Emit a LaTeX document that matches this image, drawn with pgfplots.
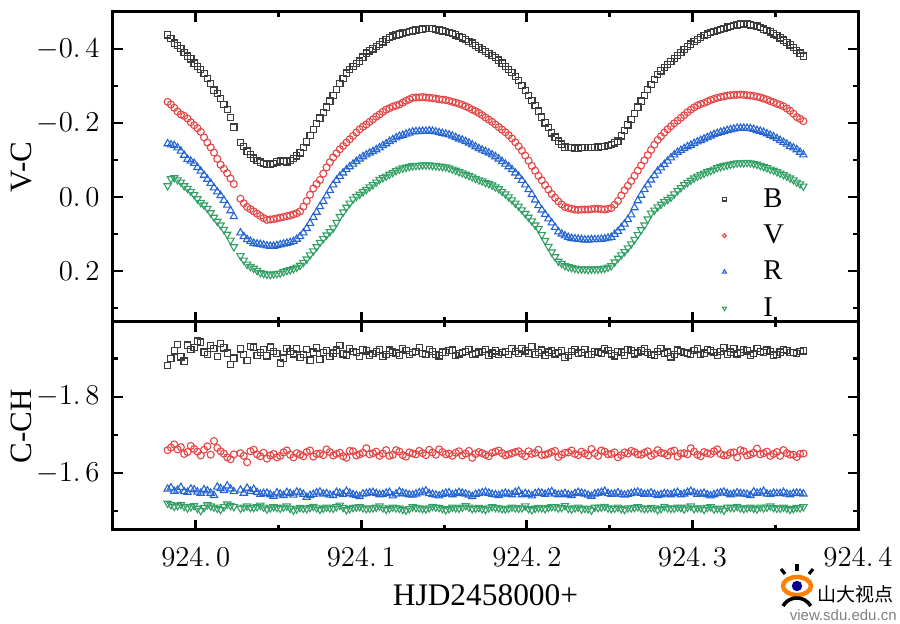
\documentclass[border=0pt]{standalone}
\usepackage{fontspec}
\setmainfont{Liberation Serif}
\newfontfamily\cjk{Noto Sans CJK SC}
\newfontfamily\lsans{Liberation Sans}
\usepackage{pgfplots}
\pgfplotsset{compat=1.18}
\usepackage{pgfplotstable}

\definecolor{cB}{RGB}{60,60,60}
\definecolor{cV}{RGB}{228,70,70}
\definecolor{cR}{RGB}{35,100,210}
\definecolor{cI}{RGB}{50,160,100}

\pgfplotstableread{
x B V R I
923.983 -0.438 -0.257 -0.144 -0.030
923.987 -0.416 -0.241 -0.139 -0.052
923.991 -0.401 -0.223 -0.124 -0.040
923.995 -0.381 -0.212 -0.102 -0.023
923.999 -0.362 -0.194 -0.091 -0.006
924.003 -0.344 -0.176 -0.070 0.015
924.007 -0.321 -0.147 -0.048 0.031
924.011 -0.289 -0.120 -0.025 0.055
924.015 -0.266 -0.087 -0.004 0.076
924.019 -0.236 -0.064 0.022 0.101
924.023 -0.189 -0.035 0.053 0.135
924.027 -0.147 0.005 0.097 0.159
924.031 -0.124 0.027 0.115 0.182
924.035 -0.105 0.039 0.125 0.193
924.039 -0.094 0.051 0.128 0.205
924.043 -0.088 0.062 0.132 0.209
924.047 -0.091 0.060 0.133 0.208
924.051 -0.099 0.056 0.129 0.206
924.055 -0.095 0.052 0.125 0.199
924.059 -0.104 0.047 0.120 0.194
924.063 -0.119 0.039 0.107 0.185
924.067 -0.149 0.011 0.085 0.168
924.071 -0.182 -0.023 0.055 0.146
924.075 -0.213 -0.046 0.026 0.123
924.079 -0.243 -0.080 -0.003 0.103
924.083 -0.275 -0.107 -0.033 0.084
924.087 -0.307 -0.129 -0.056 0.053
924.091 -0.335 -0.147 -0.074 0.028
924.095 -0.352 -0.165 -0.089 0.006
924.099 -0.367 -0.183 -0.103 -0.007
924.103 -0.389 -0.196 -0.114 -0.020
924.107 -0.400 -0.210 -0.123 -0.033
924.111 -0.412 -0.223 -0.133 -0.047
924.115 -0.426 -0.236 -0.144 -0.056
924.119 -0.435 -0.244 -0.155 -0.066
924.123 -0.440 -0.250 -0.164 -0.075
924.127 -0.445 -0.260 -0.170 -0.080
924.131 -0.449 -0.268 -0.176 -0.084
924.135 -0.452 -0.269 -0.177 -0.085
924.139 -0.456 -0.269 -0.178 -0.086
924.143 -0.455 -0.267 -0.178 -0.085
924.147 -0.451 -0.264 -0.174 -0.083
924.151 -0.447 -0.262 -0.170 -0.081
924.155 -0.442 -0.257 -0.165 -0.075
924.159 -0.434 -0.252 -0.157 -0.068
924.163 -0.425 -0.245 -0.150 -0.061
924.167 -0.416 -0.236 -0.141 -0.054
924.171 -0.404 -0.227 -0.131 -0.046
924.175 -0.393 -0.215 -0.123 -0.039
924.179 -0.383 -0.203 -0.114 -0.032
924.183 -0.370 -0.189 -0.103 -0.022
924.187 -0.353 -0.175 -0.089 -0.008
924.191 -0.336 -0.158 -0.074 0.008
924.195 -0.315 -0.137 -0.056 0.025
924.199 -0.288 -0.112 -0.033 0.045
924.203 -0.261 -0.084 -0.007 0.065
924.207 -0.232 -0.057 0.023 0.086
924.211 -0.200 -0.032 0.047 0.118
924.215 -0.173 -0.008 0.070 0.149
924.219 -0.151 0.012 0.094 0.174
924.223 -0.135 0.027 0.105 0.186
924.227 -0.133 0.032 0.112 0.191
924.231 -0.132 0.035 0.114 0.195
924.235 -0.133 0.034 0.116 0.195
924.239 -0.134 0.033 0.115 0.195
924.243 -0.135 0.032 0.115 0.195
924.247 -0.137 0.034 0.113 0.193
924.251 -0.141 0.030 0.109 0.186
924.255 -0.151 0.011 0.093 0.166
924.259 -0.180 -0.018 0.073 0.148
924.263 -0.209 -0.043 0.048 0.127
924.267 -0.243 -0.071 0.010 0.102
924.271 -0.275 -0.099 -0.020 0.076
924.275 -0.304 -0.127 -0.046 0.044
924.279 -0.331 -0.154 -0.070 0.027
924.283 -0.350 -0.174 -0.088 0.013
924.287 -0.366 -0.191 -0.106 0.001
924.291 -0.383 -0.206 -0.121 -0.017
924.295 -0.399 -0.221 -0.131 -0.033
924.299 -0.413 -0.236 -0.140 -0.045
924.303 -0.426 -0.247 -0.149 -0.056
924.307 -0.436 -0.254 -0.157 -0.064
924.311 -0.444 -0.262 -0.165 -0.071
924.315 -0.450 -0.268 -0.172 -0.079
924.319 -0.456 -0.272 -0.177 -0.084
924.323 -0.461 -0.275 -0.182 -0.088
924.327 -0.465 -0.276 -0.186 -0.092
924.331 -0.468 -0.276 -0.186 -0.092
924.335 -0.465 -0.274 -0.185 -0.092
924.339 -0.462 -0.271 -0.180 -0.088
924.343 -0.454 -0.266 -0.175 -0.082
924.347 -0.446 -0.259 -0.167 -0.075
924.351 -0.436 -0.252 -0.158 -0.068
924.355 -0.424 -0.245 -0.148 -0.060
924.359 -0.411 -0.233 -0.137 -0.051
924.363 -0.396 -0.216 -0.128 -0.040
924.367 -0.381 -0.205 -0.114 -0.029
}\topdata

\pgfplotstableread{
x B V R I
923.985 -0.428 -0.250 -0.141 -0.049
923.989 -0.410 -0.231 -0.133 -0.046
923.993 -0.390 -0.219 -0.113 -0.030
923.997 -0.373 -0.202 -0.097 -0.015
924.001 -0.352 -0.186 -0.080 0.005
924.005 -0.333 -0.161 -0.059 0.022
924.009 -0.306 -0.134 -0.037 0.043
924.013 -0.279 -0.103 -0.014 0.066
924.017 -0.250 -0.076 0.009 0.088
924.021 -0.214 -0.050 0.037 0.117
924.029 -0.136 0.017 0.107 0.171
924.033 -0.114 0.033 0.120 0.188
924.037 -0.099 0.045 0.127 0.199
924.041 -0.091 0.057 0.130 0.207
924.045 -0.089 0.061 0.133 0.210
924.049 -0.095 0.058 0.131 0.207
924.053 -0.097 0.054 0.127 0.202
924.057 -0.099 0.050 0.123 0.197
924.061 -0.111 0.044 0.114 0.190
924.065 -0.133 0.026 0.097 0.177
924.069 -0.166 -0.006 0.071 0.157
924.073 -0.198 -0.035 0.041 0.135
924.077 -0.228 -0.063 0.012 0.113
924.081 -0.259 -0.094 -0.018 0.094
924.085 -0.291 -0.118 -0.045 0.069
924.089 -0.321 -0.138 -0.065 0.041
924.093 -0.344 -0.156 -0.082 0.017
924.097 -0.360 -0.174 -0.096 -0.001
924.101 -0.378 -0.190 -0.109 -0.014
924.105 -0.395 -0.203 -0.119 -0.027
924.109 -0.406 -0.217 -0.128 -0.040
924.113 -0.419 -0.230 -0.139 -0.052
924.117 -0.431 -0.240 -0.150 -0.061
924.121 -0.438 -0.247 -0.160 -0.071
924.125 -0.443 -0.255 -0.167 -0.078
924.129 -0.447 -0.264 -0.173 -0.082
924.133 -0.451 -0.269 -0.177 -0.085
924.137 -0.454 -0.270 -0.178 -0.086
924.141 -0.456 -0.268 -0.179 -0.086
924.145 -0.453 -0.266 -0.176 -0.084
924.149 -0.449 -0.263 -0.172 -0.082
924.153 -0.445 -0.260 -0.168 -0.078
924.157 -0.438 -0.255 -0.161 -0.072
924.161 -0.430 -0.249 -0.154 -0.065
924.165 -0.421 -0.241 -0.146 -0.058
924.169 -0.410 -0.232 -0.136 -0.050
924.173 -0.399 -0.221 -0.127 -0.043
924.177 -0.388 -0.209 -0.119 -0.036
924.181 -0.377 -0.196 -0.109 -0.027
924.185 -0.362 -0.182 -0.096 -0.015
924.189 -0.345 -0.167 -0.082 0.000
924.193 -0.326 -0.148 -0.065 0.017
924.197 -0.302 -0.125 -0.045 0.035
924.201 -0.275 -0.098 -0.020 0.055
924.205 -0.247 -0.071 0.008 0.076
924.209 -0.216 -0.045 0.035 0.102
924.213 -0.187 -0.020 0.059 0.134
924.217 -0.162 0.002 0.082 0.162
924.221 -0.143 0.020 0.100 0.180
924.225 -0.134 0.030 0.109 0.189
924.229 -0.132 0.034 0.113 0.193
924.233 -0.133 0.034 0.115 0.195
924.237 -0.134 0.034 0.116 0.196
924.241 -0.134 0.032 0.115 0.195
924.245 -0.136 0.033 0.114 0.194
924.249 -0.139 0.032 0.111 0.190
924.253 -0.146 0.021 0.101 0.176
924.257 -0.165 -0.004 0.083 0.157
924.261 -0.195 -0.030 0.061 0.138
924.265 -0.226 -0.057 0.029 0.115
924.269 -0.259 -0.085 -0.005 0.089
924.273 -0.290 -0.113 -0.033 0.060
924.277 -0.318 -0.141 -0.058 0.036
924.281 -0.341 -0.164 -0.079 0.020
924.285 -0.358 -0.183 -0.097 0.007
924.289 -0.375 -0.199 -0.114 -0.008
924.293 -0.391 -0.214 -0.126 -0.025
924.297 -0.406 -0.229 -0.136 -0.039
924.301 -0.420 -0.242 -0.145 -0.051
924.305 -0.431 -0.251 -0.153 -0.060
924.309 -0.440 -0.258 -0.161 -0.068
924.313 -0.447 -0.265 -0.169 -0.075
924.317 -0.453 -0.270 -0.175 -0.082
924.321 -0.459 -0.274 -0.180 -0.086
924.325 -0.463 -0.276 -0.184 -0.090
924.329 -0.467 -0.277 -0.186 -0.092
924.333 -0.467 -0.275 -0.186 -0.093
924.337 -0.464 -0.273 -0.183 -0.090
924.341 -0.458 -0.269 -0.178 -0.085
924.345 -0.450 -0.263 -0.171 -0.079
924.349 -0.441 -0.256 -0.163 -0.072
924.353 -0.430 -0.249 -0.153 -0.064
924.357 -0.418 -0.239 -0.143 -0.056
924.361 -0.404 -0.225 -0.133 -0.046
924.365 -0.389 -0.211 -0.121 -0.035
}\topmid

\pgfplotstableread{
x B V R I
923.983 -1.882 -1.660 -1.558 -1.520
923.987 -1.921 -1.675 -1.552 -1.512
923.991 -1.905 -1.668 -1.562 -1.517
923.995 -1.936 -1.655 -1.549 -1.508
923.999 -1.930 -1.663 -1.556 -1.514
924.003 -1.944 -1.646 -1.547 -1.501
924.007 -1.912 -1.670 -1.553 -1.516
924.011 -1.928 -1.684 -1.541 -1.510
924.015 -1.940 -1.657 -1.559 -1.504
924.019 -1.915 -1.641 -1.566 -1.518
924.023 -1.902 -1.649 -1.551 -1.511
924.027 -1.926 -1.652 -1.555 -1.507
924.031 -1.896 -1.628 -1.560 -1.513
924.035 -1.931 -1.661 -1.557 -1.509
924.039 -1.917 -1.644 -1.544 -1.515
924.043 -1.908 -1.638 -1.547 -1.505
924.047 -1.920 -1.650 -1.539 -1.511
924.051 -1.889 -1.645 -1.545 -1.507
924.055 -1.927 -1.659 -1.549 -1.513
924.059 -1.913 -1.641 -1.542 -1.502
924.063 -1.903 -1.648 -1.548 -1.509
924.067 -1.924 -1.655 -1.536 -1.506
924.071 -1.918 -1.643 -1.544 -1.512
924.075 -1.899 -1.651 -1.550 -1.504
924.079 -1.922 -1.662 -1.546 -1.510
924.083 -1.915 -1.646 -1.541 -1.507
924.087 -1.935 -1.653 -1.547 -1.515
924.091 -1.910 -1.640 -1.552 -1.503
924.095 -1.919 -1.657 -1.543 -1.509
924.099 -1.907 -1.649 -1.538 -1.511
924.103 -1.921 -1.665 -1.546 -1.506
924.107 -1.914 -1.652 -1.549 -1.508
924.111 -1.925 -1.645 -1.543 -1.513
924.115 -1.911 -1.660 -1.547 -1.504
924.119 -1.918 -1.648 -1.540 -1.510
924.123 -1.909 -1.656 -1.551 -1.507
924.127 -1.922 -1.643 -1.545 -1.502
924.131 -1.916 -1.651 -1.542 -1.511
924.135 -1.930 -1.658 -1.548 -1.508
924.139 -1.912 -1.647 -1.553 -1.505
924.143 -1.919 -1.654 -1.544 -1.512
924.147 -1.908 -1.662 -1.540 -1.509
924.151 -1.917 -1.649 -1.547 -1.503
924.155 -1.923 -1.645 -1.543 -1.510
924.159 -1.913 -1.657 -1.549 -1.507
924.163 -1.920 -1.651 -1.545 -1.514
924.167 -1.911 -1.640 -1.538 -1.506
924.171 -1.918 -1.655 -1.546 -1.509
924.175 -1.924 -1.648 -1.550 -1.504
924.179 -1.915 -1.653 -1.544 -1.511
924.183 -1.912 -1.659 -1.541 -1.508
924.187 -1.919 -1.646 -1.547 -1.505
924.191 -1.927 -1.652 -1.543 -1.510
924.195 -1.914 -1.657 -1.552 -1.507
924.199 -1.921 -1.644 -1.546 -1.513
924.203 -1.933 -1.650 -1.540 -1.503
924.207 -1.917 -1.661 -1.548 -1.509
924.211 -1.910 -1.648 -1.544 -1.506
924.215 -1.922 -1.655 -1.551 -1.511
924.219 -1.916 -1.642 -1.543 -1.508
924.223 -1.903 -1.653 -1.546 -1.514
924.227 -1.920 -1.659 -1.541 -1.505
924.231 -1.915 -1.647 -1.549 -1.510
924.235 -1.924 -1.651 -1.545 -1.507
924.239 -1.911 -1.663 -1.539 -1.502
924.243 -1.918 -1.645 -1.547 -1.509
924.247 -1.926 -1.656 -1.552 -1.512
924.251 -1.913 -1.650 -1.544 -1.506
924.255 -1.919 -1.641 -1.548 -1.510
924.259 -1.909 -1.654 -1.542 -1.504
924.263 -1.922 -1.658 -1.546 -1.508
924.267 -1.916 -1.649 -1.550 -1.511
924.271 -1.928 -1.653 -1.544 -1.506
924.275 -1.912 -1.645 -1.548 -1.509
924.279 -1.920 -1.660 -1.541 -1.503
924.283 -1.914 -1.651 -1.546 -1.512
924.287 -1.905 -1.656 -1.543 -1.507
924.291 -1.923 -1.643 -1.549 -1.510
924.295 -1.917 -1.652 -1.545 -1.505
924.299 -1.911 -1.665 -1.552 -1.513
924.303 -1.926 -1.648 -1.544 -1.508
924.307 -1.915 -1.655 -1.547 -1.504
924.311 -1.921 -1.650 -1.540 -1.511
924.315 -1.909 -1.662 -1.546 -1.507
924.319 -1.929 -1.646 -1.550 -1.502
924.323 -1.918 -1.653 -1.543 -1.509
924.327 -1.913 -1.641 -1.548 -1.512
924.331 -1.924 -1.657 -1.545 -1.506
924.335 -1.910 -1.649 -1.541 -1.510
924.339 -1.927 -1.664 -1.547 -1.505
924.343 -1.916 -1.652 -1.552 -1.508
924.347 -1.920 -1.645 -1.544 -1.513
924.351 -1.912 -1.655 -1.546 -1.507
924.355 -1.925 -1.660 -1.549 -1.510
924.359 -1.917 -1.648 -1.543 -1.504
924.363 -1.914 -1.642 -1.547 -1.509
924.367 -1.921 -1.651 -1.545 -1.511
}\botdata

\pgfplotstableread{
x B V R I
923.985 -1.901 -1.667 -1.561 -1.516
923.989 -1.938 -1.662 -1.555 -1.514
923.993 -1.894 -1.650 -1.551 -1.512
923.997 -1.925 -1.671 -1.558 -1.511
924.001 -1.947 -1.656 -1.550 -1.507
924.005 -1.918 -1.661 -1.556 -1.509
924.009 -1.935 -1.648 -1.547 -1.513
924.013 -1.906 -1.666 -1.563 -1.507
924.017 -1.929 -1.651 -1.554 -1.511
924.021 -1.885 -1.636 -1.558 -1.514
924.029 -1.912 -1.645 -1.547 -1.510
924.033 -1.933 -1.657 -1.552 -1.509
924.037 -1.909 -1.649 -1.549 -1.511
924.041 -1.925 -1.653 -1.546 -1.510
924.045 -1.931 -1.646 -1.543 -1.508
924.049 -1.914 -1.641 -1.548 -1.509
924.053 -1.902 -1.654 -1.541 -1.510
924.057 -1.919 -1.648 -1.546 -1.507
924.061 -1.926 -1.652 -1.550 -1.505
924.065 -1.911 -1.644 -1.544 -1.507
924.069 -1.897 -1.659 -1.541 -1.509
924.073 -1.929 -1.650 -1.548 -1.508
924.077 -1.917 -1.647 -1.545 -1.507
924.081 -1.906 -1.655 -1.542 -1.508
924.085 -1.923 -1.650 -1.549 -1.511
924.089 -1.913 -1.644 -1.544 -1.509
924.093 -1.928 -1.658 -1.547 -1.506
924.097 -1.916 -1.646 -1.541 -1.510
924.101 -1.924 -1.653 -1.545 -1.508
924.105 -1.910 -1.649 -1.548 -1.507
924.109 -1.919 -1.656 -1.546 -1.510
924.113 -1.907 -1.651 -1.544 -1.508
924.117 -1.923 -1.645 -1.549 -1.507
924.121 -1.915 -1.660 -1.545 -1.508
924.125 -1.926 -1.647 -1.547 -1.504
924.129 -1.912 -1.654 -1.543 -1.506
924.133 -1.920 -1.649 -1.545 -1.509
924.137 -1.914 -1.652 -1.550 -1.506
924.141 -1.925 -1.661 -1.546 -1.508
924.145 -1.911 -1.648 -1.542 -1.510
924.149 -1.918 -1.655 -1.544 -1.506
924.153 -1.922 -1.651 -1.548 -1.506
924.157 -1.909 -1.653 -1.546 -1.508
924.161 -1.916 -1.646 -1.547 -1.510
924.165 -1.924 -1.658 -1.542 -1.510
924.169 -1.913 -1.650 -1.544 -1.507
924.173 -1.919 -1.652 -1.548 -1.506
924.177 -1.910 -1.644 -1.547 -1.508
924.181 -1.921 -1.656 -1.543 -1.509
924.185 -1.917 -1.652 -1.545 -1.506
924.189 -1.912 -1.649 -1.545 -1.507
924.193 -1.920 -1.655 -1.549 -1.508
924.197 -1.926 -1.650 -1.543 -1.508
924.201 -1.915 -1.657 -1.544 -1.506
924.205 -1.911 -1.653 -1.546 -1.507
924.209 -1.923 -1.647 -1.547 -1.508
924.213 -1.918 -1.651 -1.548 -1.509
924.217 -1.913 -1.658 -1.545 -1.511
924.221 -1.921 -1.648 -1.544 -1.509
924.225 -1.909 -1.654 -1.543 -1.507
924.229 -1.924 -1.650 -1.546 -1.508
924.233 -1.917 -1.656 -1.547 -1.505
924.237 -1.912 -1.646 -1.542 -1.506
924.241 -1.920 -1.652 -1.545 -1.510
924.245 -1.914 -1.659 -1.549 -1.510
924.249 -1.922 -1.649 -1.546 -1.508
924.253 -1.908 -1.654 -1.545 -1.507
924.257 -1.918 -1.647 -1.544 -1.506
924.261 -1.925 -1.651 -1.544 -1.508
924.265 -1.913 -1.655 -1.548 -1.509
924.269 -1.921 -1.648 -1.547 -1.508
924.273 -1.916 -1.657 -1.545 -1.507
924.277 -1.910 -1.650 -1.544 -1.508
924.281 -1.927 -1.653 -1.543 -1.506
924.285 -1.918 -1.646 -1.545 -1.508
924.289 -1.912 -1.659 -1.547 -1.507
924.293 -1.920 -1.651 -1.543 -1.509
924.297 -1.915 -1.649 -1.549 -1.510
924.301 -1.922 -1.656 -1.548 -1.506
924.305 -1.911 -1.644 -1.545 -1.508
924.309 -1.925 -1.652 -1.543 -1.509
924.313 -1.916 -1.657 -1.543 -1.505
924.317 -1.920 -1.650 -1.548 -1.506
924.321 -1.912 -1.647 -1.546 -1.510
924.325 -1.926 -1.654 -1.545 -1.509
924.329 -1.917 -1.660 -1.546 -1.508
924.333 -1.921 -1.646 -1.544 -1.508
924.337 -1.914 -1.653 -1.550 -1.507
924.341 -1.919 -1.649 -1.548 -1.510
924.345 -1.923 -1.656 -1.545 -1.510
924.349 -1.910 -1.650 -1.547 -1.509
924.353 -1.918 -1.645 -1.546 -1.507
924.357 -1.922 -1.652 -1.545 -1.507
924.361 -1.916 -1.648 -1.546 -1.506
924.365 -1.919 -1.650 -1.547 -1.508
}\botmid

\pgfplotsset{
  common/.style={
    scale only axis, width=372.5pt,
    xmin=923.95, xmax=924.4,
    xtick={924.0,924.1,924.2,924.3,924.4},
    minor xtick={923.95,924.05,924.15,924.25,924.35},
    tick align=inside,
    major tick length=5pt, minor tick length=2.5pt,
    tick style={black, line width=1.4pt},
    axis line style={line width=1.5pt},
    y dir=reverse,
    ylabel style={font=\fontsize{15.5}{18}\selectfont, inner sep=0pt,
      at={(axis description cs:-0.1087,0.5)}, anchor=south},
    yticklabel style={font=\fontsize{14.5}{17}\selectfont, inner sep=0pt, xshift=-6.5pt},
    yticklabel={\pgfmathprintnumber[fixed,fixed zerofill,precision=1,set decimal separator={.\,}]{\tick}},
    xticklabel style={font=\fontsize{14.5}{17}\selectfont, inner sep=0pt, yshift=-9pt},
  },
  mB/.style={only marks, mark=square, mark size=1.55pt, color=cB, mark options={line width=0.6pt}},
  mV/.style={only marks, mark=o, mark size=1.75pt, color=cV, mark options={line width=0.55pt}},
  mR/.style={only marks, mark=triangle, mark size=2.1pt, color=cR, mark options={line width=0.55pt}},
  mI/.style={only marks, mark=triangle, mark size=2.1pt, color=cI, mark options={line width=0.55pt, rotate=180}},
}

\begin{document}
\begin{tikzpicture}
\useasboundingbox (-56.5pt,-47pt) rectangle (393.5pt,265pt);

\begin{axis}[common,
  at={(0pt,104pt)}, anchor=south west, height=155pt,
  ymin=-0.5, ymax=0.338,
  ytick={-0.4,-0.2,0,0.2},
  minor ytick={-0.3,-0.1,0.1,0.3},
  xticklabels={},
  ylabel={V-C},
  legend style={at={(axis description cs:0.8175,0.432)}, anchor=north west,
    draw=none, fill=none, inner sep=0pt, row sep=7.3pt, column sep=18.5pt,
    font=\fontsize{14.3}{17}\selectfont,
    nodes={inner sep=0pt}},
  legend cell align=left,
  legend image code/.code={%
    \draw[#1, every mark/.append style={scale=0.55}] plot coordinates {(0pt,0pt)};},
]
\addplot[mB] table[x=x,y=B]{\topdata};
\addplot[mV] table[x=x,y=V]{\topdata};
\addplot[mR] table[x=x,y=R]{\topdata};
\addplot[mI] table[x=x,y=I]{\topdata};
\legend{B,V,R,I}
\addplot[mB, forget plot] table[x=x,y=B]{\topmid};
\addplot[mV, forget plot] table[x=x,y=V]{\topmid};
\addplot[mR, forget plot] table[x=x,y=R]{\topmid};
\addplot[mI, forget plot] table[x=x,y=I]{\topmid};
\end{axis}

\begin{axis}[common,
  at={(0pt,0pt)}, anchor=south west, height=104pt,
  ymin=-1.997, ymax=-1.45,
  ytick={-1.8,-1.6},
  minor ytick={-1.9,-1.7,-1.5},
  xticklabel={\pgfmathprintnumber[fixed,fixed zerofill,precision=1,set decimal separator={.\,}]{\tick}},
  ylabel={C-CH},
  xlabel={HJD2458000+},
  xlabel style={font=\fontsize{15.7}{18}\selectfont, inner sep=0pt,
    at={(axis description cs:0.5,0)}, anchor=north, yshift=-27pt},
]
\addplot[mB] table[x=x,y=B]{\botdata};
\addplot[mV] table[x=x,y=V]{\botdata};
\addplot[mR] table[x=x,y=R]{\botdata};
\addplot[mI] table[x=x,y=I]{\botdata};
\addplot[mB] table[x=x,y=B]{\botmid};
\addplot[mV] table[x=x,y=V]{\botmid};
\addplot[mR] table[x=x,y=R]{\botmid};
\addplot[mI] table[x=x,y=I]{\botmid};
\end{axis}

% watermark
\draw[orange, line width=2.2pt] (342pt,-28pt) ellipse (7pt and 4.5pt);
\fill[blue!55!black] (342pt,-28pt) circle (2.6pt);
\draw[black, line width=1.6pt] (342pt,-17pt) -- (342pt,-20.5pt);
\draw[black, line width=1.6pt] (334pt,-19.5pt) -- (336pt,-22pt);
\draw[black, line width=1.6pt] (350pt,-19.5pt) -- (348pt,-22pt);
\draw[black, line width=1.8pt] (335pt,-38pt) arc (150:30:8pt);
\node[font=\cjk\fontsize{9.5}{10}\selectfont, anchor=west, inner sep=0pt] at (352pt,-32pt) {山大视点};
\node[font=\lsans\fontsize{7.5}{8}\selectfont, gray, anchor=east, inner sep=0pt] at (392pt,-42.5pt) {view.sdu.edu.cn};
\end{tikzpicture}
\end{document}
